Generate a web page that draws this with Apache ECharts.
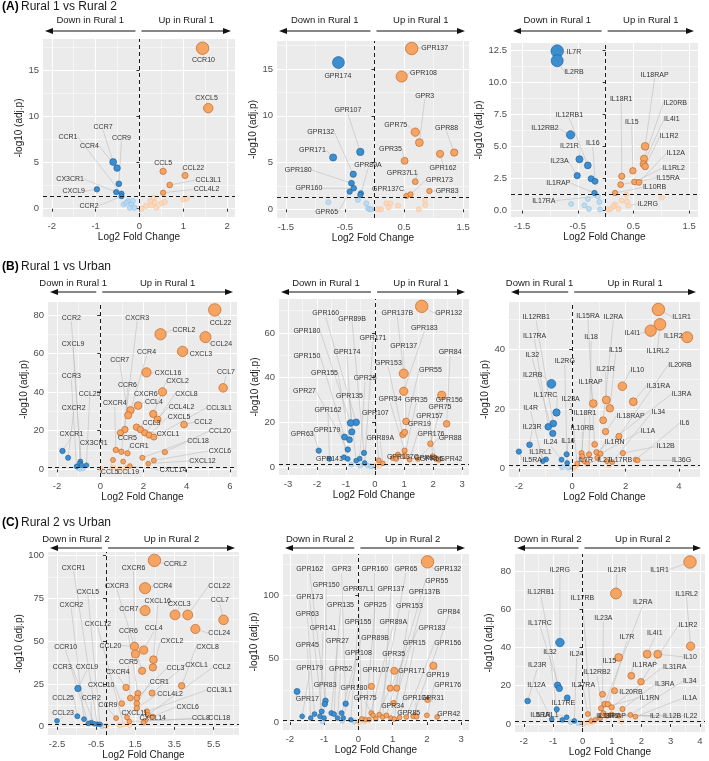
<!DOCTYPE html>
<html>
<head>
<meta charset="utf-8">
<script src="https://cdn.jsdelivr.net/npm/echarts@6/dist/echarts.min.js"></script>
<style>
  html, body { margin: 0; padding: 0; background: #fff; }
  #main { width: 709px; height: 761px; }
</style>
</head>
<body>
<div id="main"></div>
<script>
// -log10(0.05)
var PADJ = 1.301;
var FONT = "'Liberation Sans', Arial, Helvetica, sans-serif";

// ---------- (A) Rural 1 vs Rural 2 ----------
// points: [log2FC, -log10(adj.p), gene]
var a1Points = [
  [1.44,17.4,'CCR10'],[1.57,10.9,'CXCL5'],[0.54,4.05,'CCL5'],[1.04,3.6,'CCL22'],[0.69,2.57,'CCL3L1'],[0.54,1.73,'CCL4L2'],
  [-0.6,5.06,'CCR7'],[-0.51,4.4,'CCR4'],[-0.47,2.7,'CCR9'],[-0.97,2.1,'CXCL9'],[-0.53,1.8,'CX3CR1'],[-0.41,1.63,'CCR1'],[-0.41,1.35,'CCR2'],
  [-0.36,0.47],[-0.26,0.83],[-0.18,0.47],[-0.15,0.83],[-0.11,0.1],[-0.22,0.1],[-0.3,0.65],
  [0.05,0],[0.15,0.3],[0.25,0.83],[0.33,1.2],[0.27,0.36],[0.39,0.1],[0.5,0.58],[0.58,0.72],[1.0,1.0],[1.08,1.1],[0.35,0.65]
];
// label anchors: [gene, x, y]
var a1Labels = [
  ['CCR10',1.46,16.1],['CXCL5',1.53,12.0],['CCR7',-0.83,8.9],['CCR9',-0.41,7.7],['CCR1',-1.63,7.8],['CCR4',-1.14,6.8],
  ['CX3CR1',-1.58,3.2],['CXCL9',-1.5,1.9],['CCR2',-1.15,0.3],['CCL5',0.54,5.0],['CCL22',1.23,4.45],['CCL3L1',1.57,3.1],['CCL4L2',1.53,2.1]
];
var a2Points = [
  [0.63,17.2,'GPR137'],[0.46,14.2,'GPR108'],[0.69,8.25,'GPR75'],[0.76,7.14,'GPR3'],[1.11,5.93,'GPR162'],[1.35,6.07,'GPR88'],[0.51,5.18,'GPR35'],
  [0.69,2.96,'GPR37L1'],[0.93,1.96,'GPR83'],[0.54,1.43,'GPR137C'],[0.61,1.6,'GPR173'],
  [-0.61,15.7,'GPR174'],[-0.24,6.14,'GPR107'],[-0.7,5.54,'GPR171'],[-0.36,3.75,'GPR132'],[-0.39,2.79,'GPR180'],[-0.35,2.25,'GPR160'],
  [-0.42,1.89,'GPR65'],[-0.23,1.71,'GPR89A'],[-0.24,1.54],
  [-0.78,0.75],[-0.28,1.0],[-0.14,0.64],[-0.11,0.1],[-0.08,0],[-0.05,0],[0.06,0],[0.11,0],[0.2,0.64],[0.27,0.64],[0.24,0.2],[0.4,0.4],[0.75,0],[0.85,1.0],[0.86,0.46]
];
var a2Labels = [
  ['GPR137',1.02,17.25],['GPR108',0.83,14.6],['GPR174',-0.62,14.3],['GPR3',0.85,12.1],['GPR107',-0.45,10.6],['GPR132',-0.91,8.3],
  ['GPR75',0.36,9.0],['GPR88',1.22,8.7],['GPR35',0.27,6.46],['GPR171',-1.05,6.36],['GPR89A',-0.11,4.68],['GPR180',-1.29,4.2],
  ['GPR162',1.16,4.4],['GPR37L1',0.47,3.86],['GPR173',1.1,3.14],['GPR160',-1.11,2.25],['GPR137C',0.23,2.14],['GPR83',1.23,1.96],['GPR65',-0.81,-0.32]
];
var a3Points = [
  [-0.87,12.42,'IL7R'],[-0.87,11.67,'IL2RB'],[-0.63,5.9,'IL12RB2'],[-0.47,4.0,'IL21R'],[-0.32,3.52,'IL12RB1'],[-0.51,2.72,'IL23A'],
  [-0.26,2.48],[-0.19,2.28,'IL16'],[-0.2,1.37,'IL1RAP'],
  [0.71,5.0,'IL18RAP'],[0.69,4.04,'IL20RB'],[0.68,3.62,'IL4I1'],[0.71,3.44,'IL1R2'],[0.49,3.1,'IL15'],[0.29,2.67,'IL18R1'],
  [0.27,2.02,'IL15RA'],[0.52,2.23,'IL1RL2'],[0.6,2.2,'IL12A'],[0.17,1.37,'IL10RB'],
  [-0.62,0.52],[-0.32,0.9],[-0.38,0.41],[-0.3,0.13],[-0.14,1.11,'IL17RA'],[-0.11,0.67],[-0.1,0.08],
  [0.05,0.08],[0.1,0.15],[0.17,0.47],[0.23,0.13],[0.29,0.78],[0.37,1.24],[0.38,0.72],[0.41,0.39,'IL2RG'],[0.14,0.34],[1.01,1.0]
];
var a3Labels = [
  ['IL7R',-0.57,12.37],['IL2RB',-0.57,10.82],['IL18RAP',0.88,10.56],['IL18R1',0.28,8.7],['IL20RB',1.25,8.4],['IL12RB1',-0.65,7.45],
  ['IL4I1',1.19,7.12],['IL15',0.47,6.88],['IL12RB2',-1.09,6.39],['IL1R2',1.14,5.77],['IL16',-0.23,5.25],['IL21R',-0.65,5.0],
  ['IL12A',1.26,4.48],['IL23A',-0.83,3.83],['IL1RL2',1.22,3.31],['IL15RA',1.12,2.54],['IL1RAP',-0.85,2.15],['IL10RB',0.88,1.81],
  ['IL17RA',-1.11,0.78],['IL2RG',0.76,0.54]
];

// ---------- (B) Rural 1 vs Urban ----------
var b1Points = [
  [5.3,82.6,'CCL22'],[2.79,70.0,'CCRL2'],[4.87,68.5,'CCL24'],[3.81,61.1,'CXCL3'],[2.14,50.2,'CXCL16'],[5.69,42.2,'CCL7'],[2.88,40.1,'CXCR6'],
  [1.75,33.0,'CCL4'],[1.4,30.6,'CCR4'],[1.29,28.0,'CCR7'],[2.45,28.7,'CXCL2'],[2.65,25.8,'CXCL8'],[3.88,23.2,'CCL2'],[1.68,21.8,'CXCL1'],
  [1.86,20.6,'CCL3'],[2.06,18.9,'CCL4L2'],[2.26,17.7,'CXCL5'],[2.48,16.7,'CCL3L1'],[1.14,20.6,'CCR6'],[0.93,18.9,'CCR5'],[0.72,10.0,'CXCR4'],
  [0.98,9.1,'CXCR3'],[1.26,8.3,'CCR1'],[2.99,8.9,'CCL20'],[0.59,4.8,'CCL5'],[1.06,4.0,'CCL19'],[1.95,6.0,'CCL18'],[2.22,2.9,'CXCL12'],
  [2.48,4.6,'CXCL6'],[1.37,1.7,'CXCL14'],
  [-1.75,9.5,'CXCR1'],[-1.49,6.0,'CXCR2'],[-0.92,4.0,'CXCL9'],[-0.95,3.0,'CX3CR1'],[-0.87,2.1,'CCR2'],[-0.64,2.1,'CCL25'],[-1.1,1.5,'CCR3'],
  [-1.03,0.9],[-0.8,0.5],[-0.95,0.3],[0.05,0],[0.59,0.9],[0.9,0.3],[1.2,0.5]
];
var b1Labels = [
  ['CCR2',-1.34,78.6],['CXCL9',-1.26,64.9],['CCR3',-1.34,48.2],['CCL25',-0.49,39.2],['CXCR2',-1.23,31.8],['CXCR1',-1.34,18.4],
  ['CX3CR1',-0.3,13.4],['CXCR3',1.71,78.6],['CCRL2',3.87,72.3],['CCL22',5.57,76.0],['CCL24',5.6,64.9],['CCR4',2.14,60.6],
  ['CXCL3',4.66,59.9],['CCR7',0.9,56.8],['CXCL16',3.14,49.9],['CCL7',5.82,50.2],['CXCL2',3.58,45.6],['CCR6',1.26,43.9],
  ['CXCR6',2.11,39.2],['CXCL8',3.99,39.2],['CXCR4',0.67,34.1],['CCL4',2.48,34.8],['CCL4L2',3.76,32.3],['CCL3L1',5.5,31.8],
  ['CXCL5',3.65,27.2],['CCL3',2.37,23.7],['CCL2',4.77,24.4],['CXCL1',3.14,18.4],['CCR5',1.26,16.0],['CCL20',5.54,19.8],
  ['CCR1',1.8,12.0],['CCL18',4.53,14.6],['CXCL6',5.54,9.5],['CXCL12',4.73,4.3],['CCL5',0.44,-1.4],['CCL19',1.29,-1.4],['CXCL14',3.37,-0.3]
];
var b2Points = [
  [1.61,71.9,'GPR132'],[0.99,41.8,'GPR137B'],[0.99,33.9,'GPR183'],[2.3,32.1,'GPR156'],[2.47,19.3,'GPR84'],[1.07,20.4,'GPR137'],
  [0.96,14.5,'GPR153'],[1.02,15.5,'GPR55'],[1.91,10.4,'GPR75'],[1.02,7.3,'GPR34'],[1.02,5.1,'GPR35'],[0.79,5.5,'GPR137C'],
  [0.73,3.6,'GPR83'],[0.61,4.0,'GPR65'],[1.19,3.3,'GPR19'],[1.48,3.6,'GPR88'],[1.99,4.8,'GPR157'],[2.1,3.6,'GPR176'],[2.2,3.2,'GPR42'],
  [0.13,3.0,'GPR107'],[0.27,1.6,'GPR89A'],
  [-0.65,20.0,'GPR160'],[-0.84,19.7,'GPR180'],[-0.8,15.7,'GPR174'],[-1.05,13.4,'GPR150'],[-0.88,12.2,'GPR155'],[-0.94,7.8,'GPR27'],
  [-1.94,7.3,'GPR63'],[-1.07,4.3,'GPR141'],[-0.94,3.6,'GPR179'],[-1.57,3.6,'GPR162'],[-0.53,3.7,'GPR25'],[-0.38,6.3,'GPR89B'],
  [-0.65,2.8,'GPR135'],[-0.36,1.8,'GPR171'],
  [-0.82,1.0],[-0.51,0.6],[-0.25,0.6],[-0.13,0.3],[0.04,1.0],[0.15,0.6]
];
var b2Labels = [
  ['GPR160',-1.7,68.7],['GPR89B',-0.79,66.4],['GPR137B',0.77,68.7],['GPR132',2.54,68.7],['GPR180',-2.35,60.7],['GPR183',1.7,62.2],
  ['GPR171',-0.07,57.8],['GPR137',0.99,54.0],['GPR174',-0.97,51.3],['GPR150',-2.35,49.6],['GPR84',2.59,51.3],['GPR153',0.46,46.3],
  ['GPR55',1.91,43.3],['GPR155',-1.74,42.1],['GPR25',-0.34,39.9],['GPR27',-2.43,33.9],['GPR135',-0.88,31.9],['GPR34',0.52,30.4],
  ['GPR35',1.42,30.1],['GPR156',2.56,30.1],['GPR75',2.24,26.9],['GPR162',-1.62,25.4],['GPR107',0.01,24.2],['GPR157',1.88,23.0],
  ['GPR19',1.53,19.0],['GPR63',-2.51,14.9],['GPR179',-1.66,16.4],['GPR89A',0.18,13.0],['GPR176',1.93,14.8],['GPR88',2.59,13.0],
  ['GPR141',-1.57,3.7],['GPR137C',0.96,4.3],['GPR42',2.62,3.7],['GPR83',1.75,3.8],['GPR65',1.95,3.6]
];
var b3Points = [
  [3.23,53.3,'IL1R1'],[3.29,48.3,'IL1RL2'],[2.94,46.2,'IL4I1'],[4.31,44.0,'IL1R2'],[1.88,27.6,'IL10'],[2.29,22.4,'IL31RA'],
  [1.28,23.0,'IL21R'],[1.41,20.2,'IL15'],[0.79,21.8,'IL1RAP'],[1.16,16.2,'IL2RA'],[1.25,12.4,'IL18RAP'],[1.75,10.8,'IL20RB'],
  [0.84,8.1,'IL15RA'],[0.91,5.5,'IL3RA'],[1.06,5.0,'IL1A'],[0.63,4.8,'IL18'],[0.35,5.2,'IL18R1'],[0.38,4.1,'IL10RB'],
  [1.9,5.2,'IL12B'],[2.38,3.0,'IL6'],[2.45,2.8,'IL36G'],[0.94,3.6,'IL1RN'],[0.56,1.7,'IL27'],[0.19,1.7,'IL23A'],
  [1.5,2.2,'IL34'],[1.3,2.5,'IL17RB'],[0.45,2.5,'IL7R'],
  [-0.78,28.4,'IL2RB'],[-0.59,18.8,'IL17RC'],[-0.71,15.1,'IL12RB1'],[-0.9,14.0,'IL17RA'],[-0.73,11.8,'IL32'],[-1.6,8.0,'IL23R'],
  [-2.0,5.7,'IL5RA'],[-0.98,3.1,'IL1RL1'],[-0.21,4.8,'IL16'],[-0.4,3.0,'IL24'],[-0.19,1.9,'IL2RG'],[-1.1,2.5,'IL4R'],
  [-0.38,0.55],[-0.15,0.3],[0.13,0.8],[1.38,1.1],[0.06,0.3]
];
var b3Labels = [
  ['IL12RB1',-1.35,50.8],['IL15RA',0.59,51.2],['IL2RA',1.54,50.8],['IL1R1',4.1,50.8],['IL17RA',-1.41,44.5],['IL18',0.71,43.9],
  ['IL4I1',2.25,45.3],['IL1R2',3.79,44.4],['IL1RL2',3.21,39.4],['IL15',1.63,39.8],['IL32',-1.5,38.1],['IL2RG',-0.28,35.9],
  ['IL20RB',4.04,34.8],['IL21R',1.25,33.5],['IL10',2.44,33.1],['IL2RB',-1.48,31.2],['IL1RAP',0.69,29.0],['IL31RA',3.23,27.8],
  ['IL17RC',-1.0,24.5],['IL3RA',4.1,25.1],['IL23A',-0.06,23.2],['IL4R',-1.56,20.4],['IL34',3.23,18.8],['IL18R1',0.48,18.6],
  ['IL18RAP',2.19,17.7],['IL23R',-1.5,14.0],['IL6',4.21,15.2],['IL10RB',0.38,13.5],['IL1A',2.84,12.5],['IL24',-0.81,8.8],
  ['IL16',-0.16,9.4],['IL1RN',1.59,8.8],['IL12B',3.5,7.4],['IL1RL1',-1.19,5.5],['IL5RA',-1.5,2.8],['IL7R',0.5,2.8],
  ['IL27',1.19,2.8],['IL17RB',1.81,2.8],['IL36G',4.1,2.8]
];

// ---------- (C) Rural 2 vs Urban ----------
var c1Points = [
  [2.48,97.1,'CCRL2'],[2.0,80.9,'CCR4'],[2.0,67.8,'CCR7'],[3.53,65.3,'CXCL3'],[4.18,65.3,'CCL22'],[6.01,62.4,'CCL7'],[4.57,57.1,'CCL24'],
  [1.46,47.0,'CCL20'],[1.93,44.8,'CCL4'],[1.51,42.5,'CXCR6'],[2.43,39.2,'CXCL16'],[2.4,34.7,'CXCL2'],[1.85,32.7,'CXCR3'],[3.87,24.0,'CXCL8'],
  [1.03,23.0,'CXCR4'],[2.36,19.7,'CXCL1'],[1.63,19.5,'CCR6'],[1.25,16.8,'CCR5'],[1.58,16.8,'CCL3'],[1.58,13.6,'CCR1'],[1.58,10.9,'CCL4L2'],
  [0.81,13.6,'CXCL10'],[2.09,9.0,'CCL3L1'],[2.14,7.0,'CCL2'],[2.39,6.0,'CXCL6'],[0.52,5.1,'CCR9'],[1.08,5.5,'CXCL11'],[1.2,3.1,'CCL18'],
  [2.0,3.5,'CCL8'],[1.92,2.5,'CXCL14'],
  [-1.43,22.4,'CXCL9'],[-1.46,6.2,'CCL25'],[-1.12,4.5,'CXCR2'],[-2.5,3.5,'CCL23'],[-0.75,2.5,'CCR2'],[-0.44,1.6,'CXCR1'],
  [-0.9,2.0,'CCR10'],[-0.6,1.8,'CCR3'],[-0.3,1.5,'CXCL5'],
  [0.01,0.6],[0.9,1.2,'CXCL12'],[1.2,1.0],[0.7,0.8],[-0.2,0.5]
];
var c1Labels = [
  ['CXCR1',-1.65,92.8],['CXCR6',1.41,92.8],['CCRL2',3.55,95.1],['CXCR3',0.56,82.1],['CCR4',2.9,82.1],['CCL22',5.79,82.1],
  ['CXCL5',-0.92,78.6],['CCL7',5.82,73.7],['CXCL16',2.65,73.1],['CXCL3',3.75,71.7],['CXCR2',-1.77,71.2],['CCR7',1.17,68.8],
  ['CXCL12',-0.41,60.0],['CCL4',2.44,57.5],['CCR6',1.15,55.6],['CCL24',5.79,54.6],['CXCL2',3.38,50.3],['CCR10',-2.06,46.8],
  ['CCL20',0.23,47.4],['CXCL8',5.19,46.8],['CCR5',1.15,37.6],['CCR3',-2.23,35.1],['CXCL9',-0.97,35.1],['CXCL1',4.63,36.1],
  ['CCL2',5.91,34.7],['CCL3',3.55,34.1],['CXCR4',0.61,31.8],['CCR1',2.73,25.9],['CXCL10',-0.24,24.6],['CCL3L1',5.79,21.4],
  ['CCL25',-2.19,16.6],['CCR2',-0.75,16.6],['CCL4L2',3.28,19.1],['CCR9',0.1,12.7],['CXCL6',4.18,11.7],['CCL23',-2.19,7.8],
  ['CXCL11',1.46,7.8],['CXCL14',2.39,4.9],['CCL8',4.85,4.9],['CCL18',5.79,4.9]
];
var c2Points = [
  [2.02,126.8,'GPR132'],[2.19,44.5,'GPR19'],[1.05,40.5,'GPR107'],[0.38,28.2,'GPR180'],[0.93,26.8,'GPR35'],[1.12,26.8,'GPR171'],
  [2.02,17.6,'GPR31'],[1.03,15.0,'GPR34'],[0.38,7.1,'GPR75'],[0.43,5.3,'GPR160'],[0.61,5.8,'GPR65'],[0.71,3.9,'GPR137'],
  [0.82,5.3,'GPR55'],[0.95,3.2,'GPR137B'],[1.05,2.4,'GPR153'],[0.31,1.8,'GPR89A'],[1.65,5.3,'GPR85'],[2.0,5.3,'GPR176'],
  [0.51,2.6,'GPR183'],[1.2,3.5,'GPR15'],[1.4,4.0,'GPR156'],[0.2,2.0,'GPR25'],[0.1,2.5,'GPR37L1'],[1.6,4.5,'GPR84'],
  [1.7,4.2,'GPR174'],[2.3,4.0,'GPR42'],
  [-1.79,24.2,'GPR17'],[-0.96,16.8,'GPR162'],[-0.98,14.2,'GPR150'],[-0.37,14.5,'GPR3'],[-1.07,8.4,'GPR173'],[-1.28,6.3,'GPR63'],
  [-1.64,4.5,'GPR179'],[-1.39,3.2,'GPR45'],[-1.12,4.5,'GPR141'],[-0.79,7.1,'GPR135'],[-0.71,6.3,'GPR27'],[-0.49,7.1,'GPR89B'],
  [-0.61,3.2,'GPR52'],[-0.44,3.2,'GPR108'],[-1.0,3.2,'GPR83'],[-0.22,1.8,'GPR155'],
  [-1.05,0.5],[-0.47,1.0],[-0.12,0.5],[0.17,0.5],[0.02,0]
];
var c2Labels = [
  ['GPR162',-1.42,120.8],['GPR3',-0.49,120.8],['GPR160',0.48,120.8],['GPR65',1.39,120.8],['GPR132',2.61,120.8],['GPR150',-0.94,108.4],
  ['GPR37L1',0.0,105.0],['GPR137',0.95,105.3],['GPR55',2.29,111.8],['GPR173',-1.42,98.9],['GPR137B',1.93,102.6],['GPR135',-0.52,92.6],
  ['GPR25',0.49,92.6],['GPR153',1.49,91.8],['GPR84',2.64,87.4],['GPR63',-1.49,85.8],['GPR155',-0.01,79.5],['GPR89A',1.02,79.5],
  ['GPR141',-1.03,74.2],['GPR183',2.15,74.7],['GPR27',-0.61,63.7],['GPR89B',0.49,66.3],['GPR45',-1.49,61.1],['GPR15',1.63,62.4],
  ['GPR156',2.61,62.4],['GPR108',0.0,54.5],['GPR35',1.03,53.7],['GPR179',-1.42,42.6],['GPR52',-0.52,41.8],['GPR107',0.51,40.8],
  ['GPR171',1.56,40.5],['GPR19',2.32,37.4],['GPR83',-0.97,29.5],['GPR180',-0.13,26.8],['GPR176',2.61,29.5],['GPR17',-1.49,18.4],
  ['GPR75',0.2,18.9],['GPR174',1.68,18.9],['GPR31',2.17,18.9],['GPR34',1.0,12.9],['GPR85',1.47,7.1],['GPR42',2.64,6.3]
];
var c3Points = [
  [3.66,84.7,'IL1R1'],[1.14,68.2,'IL21R'],[3.68,40.7,'IL1RL2'],[2.2,36.5,'IL4I1'],[2.56,36.5,'IL10'],[1.23,34.8,'IL15'],
  [1.66,25.2,'IL1RAP'],[1.99,22.1,'IL1R2'],[1.09,17.4,'IL20RB'],[0.68,15.5,'IL23A'],[0.75,10.4,'IL2RA'],[0.86,10.3,'IL7R'],
  [0.63,8.2,'IL1RN'],[0.99,8.7,'IL31RA'],[1.36,7.8,'IL3RA'],[0.18,5.2,'IL27RA'],[0.71,5.6,'IL12RB2'],[0.83,4.3,'IL22'],
  [0.99,5.0,'IL2'],[1.23,4.3,'IL12B'],[1.63,4.7,'IL34'],[1.8,3.8,'IL1A'],[0.6,3.0,'IL18RAP'],[0.43,2.1,'IL18R1'],[0.29,1.6,'IL17RB'],
  [-0.77,42.6,'IL2RG'],[-0.85,20.3,'IL12RB1'],[-0.79,18.6,'IL17RC'],[-0.52,13.7,'IL17RE'],[-1.87,12.0,'IL23R'],[-0.88,7.7,'IL32'],
  [-1.05,2.4,'IL12A'],[-0.54,3.5,'IL1RL1'],[-0.69,2.1,'IL5RA'],[-0.28,1.6,'IL24'],
  [-0.4,0.9],[-0.15,0.5],[0.05,0.3],[0.2,0.8],[0.35,0.9],[1.32,1.2]
];
var c3Labels = [
  ['IL2RG',-0.77,80.3],['IL21R',1.17,80.3],['IL1R1',2.62,80.7],['IL12RB1',-1.42,69.0],['IL17RB',0.0,65.9],['IL1RL2',3.54,68.2],
  ['IL2RA',2.05,63.8],['IL23A',0.71,55.5],['IL17RC',-1.45,52.9],['IL1R2',3.59,51.7],['IL4I1',2.46,47.3],['IL7R',1.51,45.2],
  ['IL32',-1.11,37.4],['IL24',-0.2,36.5],['IL10',3.66,35.1],['IL15',0.91,33.0],['IL1RAP',2.12,30.8],['IL23R',-1.54,30.8],
  ['IL31RA',3.14,29.9],['IL12RB2',0.49,27.0],['IL12A',-1.57,20.3],['IL27RA',0.03,20.3],['IL3RA',2.8,20.7],['IL34',3.65,22.4],
  ['IL20RB',1.65,16.5],['IL1RN',2.28,13.7],['IL1A',3.65,13.4],['IL17RE',-0.65,11.1],['IL5RA',-1.45,4.7],['IL1RL1',-1.2,4.7],
  ['IL18R1',0.85,4.3],['IL18RAP',1.0,4.3],['IL2',2.46,4.3],['IL12B',3.05,4.3],['IL22',3.68,4.3]
];

// tick labels
var a1XTicks = [-2,-1,0,1,2],            a1YTicks = [0,5,10,15];
var a2XTicks = [-1.5,-0.5,0.5,1.5],      a2YTicks = [0,5,10,15];
var a3XTicks = [-1.5,-0.5,0.5,1.5],      a3YTicks = [0,2.5,5,7.5,10,12.5];
var b1XTicks = [-2,0,2,4,6],             b1YTicks = [0,20,40,60,80];
var b2XTicks = [-3,-2,-1,0,1,2,3],       b2YTicks = [0,20,40,60];
var b3XTicks = [-2,0,2,4],               b3YTicks = [0,20,40];
var c1XTicks = [-2.5,-0.5,1.5,3.5,5.5],  c1YTicks = [0,25,50,75,100];
var c2XTicks = [-2,-1,0,1,2,3],          c2YTicks = [0,50,100];
var c3XTicks = [-2,-1,0,1,2,3,4],        c3YTicks = [0,20,40,60,80];

var rowTitles = [['(A)','Rural 1 vs Rural 2'],['(B)','Rural 1 vs Urban'],['(C)','Rural 2 vs Urban']];
var groupNames = ['Rural 1','Rural 1','Rural 2'];

// layout of each panel: rect [left, top, width, height], axis ranges, name gaps
var panels = [
  {pts:a1Points, labs:a1Labels, xt:a1XTicks, yt:a1YTicks, rect:[43,39,192,178],  xr:[-2.2,2.18],  yr:[-0.9,18.4],  row:0, yGap:10, xGap:14},
  {pts:a2Points, labs:a2Labels, xt:a2XTicks, yt:a2YTicks, rect:[277,41,192,177], xr:[-1.65,1.6],  yr:[-0.93,18.0], row:0, yGap:19, xGap:14},
  {pts:a3Points, labs:a3Labels, xt:a3XTicks, yt:a3YTicks, rect:[511,43,187,174], xr:[-1.7,1.66],  yr:[-0.5,13.05], row:0, yGap:19, xGap:14, yDec:1},
  {pts:b1Points, labs:b1Labels, xt:b1XTicks, yt:b1YTicks, rect:[48,302,189,175], xr:[-2.42,6.33], yr:[-4,86.7],    row:1, yGap:14, xGap:14},
  {pts:b2Points, labs:b2Labels, xt:b2XTicks, yt:b2YTicks, rect:[279,299,190,176],xr:[-3.31,3.24], yr:[-3.6,75.2],  row:1, yGap:19, xGap:14},
  {pts:b3Points, labs:b3Labels, xt:b3XTicks, yt:b3YTicks, rect:[509,302,191,175],xr:[-2.37,4.79], yr:[-2.8,55.8],  row:1, yGap:13, xGap:14},
  {pts:c1Points, labs:c1Labels, xt:c1XTicks, yt:c1YTicks, rect:[48,552,191,184], xr:[-2.96,6.8],  yr:[-4.8,102],   row:2, yGap:14, xGap:12},
  {pts:c2Points, labs:c2Labels, xt:c2XTicks, yt:c2YTicks, rect:[283,554,186,176],xr:[-2.2,3.23],  yr:[-6.3,133],   row:2, yGap:21, xGap:12},
  {pts:c3Points, labs:c3Labels, xt:c3XTicks, yt:c3YTicks, rect:[515,554,190,178],xr:[-2.3,4.17],  yr:[-4.2,88.9],  row:2, yGap:21, xGap:12}
];

// ggplot-style minor breaks: midpoints, extended one step, clipped to range
function minors(t, r) {
  var step = t[1] - t[0], out = [];
  for (var v = t[0] - step / 2; v <= t[t.length - 1] + step; v += step) {
    if (v > r[0] && v < r[1]) out.push(+v.toFixed(4));
  }
  return out;
}

var chart = echarts.init(document.getElementById('main'));
var labelPos = []; // per series: label anchor (data coords) for each data item

var grid = [], xAxis = [], yAxis = [], series = [];
var styles = [
  {test: function (d) { return d[1] <= PADJ && d[0] < 0; },  fill: 'rgba(178,215,243,0.8)', stroke: '#95c6ea', sig: false},
  {test: function (d) { return d[1] <= PADJ && d[0] >= 0; }, fill: 'rgba(253,214,182,0.8)', stroke: '#f9c49a', sig: false},
  {test: function (d) { return d[1] > PADJ && d[0] < 0; },   fill: '#3b8fd1', stroke: '#22639b', sig: true},
  {test: function (d) { return d[1] > PADJ && d[0] >= 0; },  fill: '#f6a462', stroke: '#c0672b', sig: true}
];

panels.forEach(function (p, g) {
  grid.push({left: p.rect[0], top: p.rect[1], width: p.rect[2], height: p.rect[3],
             show: true, backgroundColor: '#EBEBEB', borderWidth: 0});
  var fmtY = p.yDec ? function (v) { return v.toFixed(p.yDec); } : null;
  var xm = minors(p.xt, p.xr), ym = minors(p.yt, p.yr);
  xAxis.push({
    gridIndex: g, type: 'value', min: p.xr[0], max: p.xr[1], position: 'bottom',
    name: 'Log2 Fold Change', nameLocation: 'middle', nameGap: p.xGap,
    nameTextStyle: {fontSize: 10, color: '#1a1a1a', fontFamily: FONT},
    axisLine: {show: false},
    axisTick: {show: true, length: 3, customValues: p.xt, lineStyle: {color: '#333', width: 1}},
    axisLabel: {customValues: p.xt, margin: 4, fontSize: 9.5, color: '#4d4d4d', fontFamily: FONT},
    splitLine: {show: true, lineStyle: {color: '#fff', width: 1}}
  });
  xAxis.push({
    gridIndex: g, type: 'value', min: p.xr[0], max: p.xr[1], position: 'bottom',
    axisLine: {show: false}, axisTick: {show: false, customValues: xm},
    axisLabel: {show: false, customValues: xm},
    splitLine: {show: true, lineStyle: {color: '#fff', width: 0.5}}
  });
  yAxis.push({
    gridIndex: g, type: 'value', min: p.yr[0], max: p.yr[1], position: 'left',
    name: '-log10 (adj.p)', nameLocation: 'middle', nameGap: p.yGap,
    nameTextStyle: {fontSize: 10, color: '#1a1a1a', fontFamily: FONT},
    axisLine: {show: false},
    axisTick: {show: true, length: 3, customValues: p.yt, lineStyle: {color: '#333', width: 1}},
    axisLabel: {customValues: p.yt, margin: 4, fontSize: 9.5, color: '#4d4d4d', fontFamily: FONT, formatter: fmtY},
    splitLine: {show: true, lineStyle: {color: '#fff', width: 1}}
  });
  yAxis.push({
    gridIndex: g, type: 'value', min: p.yr[0], max: p.yr[1], position: 'left',
    axisLine: {show: false}, axisTick: {show: false, customValues: ym},
    axisLabel: {show: false, customValues: ym},
    splitLine: {show: true, lineStyle: {color: '#fff', width: 0.5}}
  });

  var labMap = {};
  p.labs.forEach(function (l) { labMap[l[0]] = [l[1], l[2]]; });
  var ymax = Math.max.apply(null, p.pts.map(function (d) { return d[1]; }));

  styles.forEach(function (st, k) {
    var pts = p.pts.filter(st.test);
    var pos = [];
    var data = pts.map(function (d) {
      var at = d[2] && labMap[d[2]] ? labMap[d[2]] : null;
      pos.push(at);
      return {value: [d[0], d[1]], name: d[2] || '', label: {show: !!at}, labelLine: {show: !!at}};
    });
    labelPos.push(pos);
    var s = {
      type: 'scatter', xAxisIndex: 2 * g, yAxisIndex: 2 * g, data: data,
      symbolSize: st.sig ? function (v) { return 4.5 + 8 * v[1] / ymax; } : 5,
      itemStyle: {color: st.fill, borderColor: st.stroke, borderWidth: 0.7, opacity: 1},
      label: {show: false, formatter: '{b}', fontSize: 7, color: '#333', fontFamily: FONT},
      labelLine: {show: false, lineStyle: {color: '#bdbdbd', width: 0.6}},
      labelLayout: function (params) {
        var at = labelPos[params.seriesIndex][params.dataIndex];
        if (!at) return {};
        var px = chart.convertToPixel({seriesIndex: params.seriesIndex}, at);
        return {x: px[0], y: px[1], align: 'center', verticalAlign: 'middle'};
      },
      emphasis: {disabled: true},
      z: st.sig ? 4 : 3
    };
    if (k === 0) {
      s.markLine = {
        silent: true, symbol: 'none', label: {show: false},
        lineStyle: {color: '#1a1a1a', type: [4, 3], width: 1},
        data: [{xAxis: 0}, {yAxis: PADJ}]
      };
    }
    series.push(s);
  });
});

chart.setOption({animation: false, grid: grid, xAxis: xAxis, yAxis: yAxis, series: series});

// titles, "Down in / Up in" headers with arrows
var textY = [20, 283, 539], arrowY = [31, 292, 548], titleY = [7, 267, 523];
var gfx = [];
rowTitles.forEach(function (t, r) {
  gfx.push({type: 'text', style: {text: t[0], x: 2, y: titleY[r], fontSize: 12, fontWeight: 'bold',
            fontFamily: FONT, fill: '#000', verticalAlign: 'middle'}});
  gfx.push({type: 'text', style: {text: t[1], x: 21, y: titleY[r], fontSize: 12,
            fontFamily: FONT, fill: '#1a1a1a', verticalAlign: 'middle'}});
});
panels.forEach(function (p, g) {
  var x0 = chart.convertToPixel({xAxisIndex: 2 * g}, 0);
  var gl = p.rect[0] + 2, gr = p.rect[0] + p.rect[2] - 4;
  var ay = arrowY[p.row], ty = textY[p.row], who = groupNames[p.row];
  var l1 = x0 - 4, r1 = x0 + 2;
  gfx.push({type: 'line', shape: {x1: gl + 6, y1: ay, x2: l1, y2: ay}, style: {stroke: '#111', lineWidth: 1.2}});
  gfx.push({type: 'polygon', shape: {points: [[gl, ay], [gl + 8, ay - 3], [gl + 8, ay + 3]]}, style: {fill: '#111'}});
  gfx.push({type: 'line', shape: {x1: r1, y1: ay, x2: gr - 6, y2: ay}, style: {stroke: '#111', lineWidth: 1.2}});
  gfx.push({type: 'polygon', shape: {points: [[gr, ay], [gr - 8, ay - 3], [gr - 8, ay + 3]]}, style: {fill: '#111'}});
  gfx.push({type: 'text', style: {text: 'Down in ' + who, x: (gl + l1) / 2, y: ty, fontSize: 9.5, fontFamily: FONT,
            fill: '#1a1a1a', align: 'center', verticalAlign: 'middle'}});
  gfx.push({type: 'text', style: {text: 'Up in ' + who, x: (r1 + gr) / 2, y: ty, fontSize: 9.5, fontFamily: FONT,
            fill: '#1a1a1a', align: 'center', verticalAlign: 'middle'}});
});
chart.setOption({graphic: gfx});
</script>
</body>
</html>
